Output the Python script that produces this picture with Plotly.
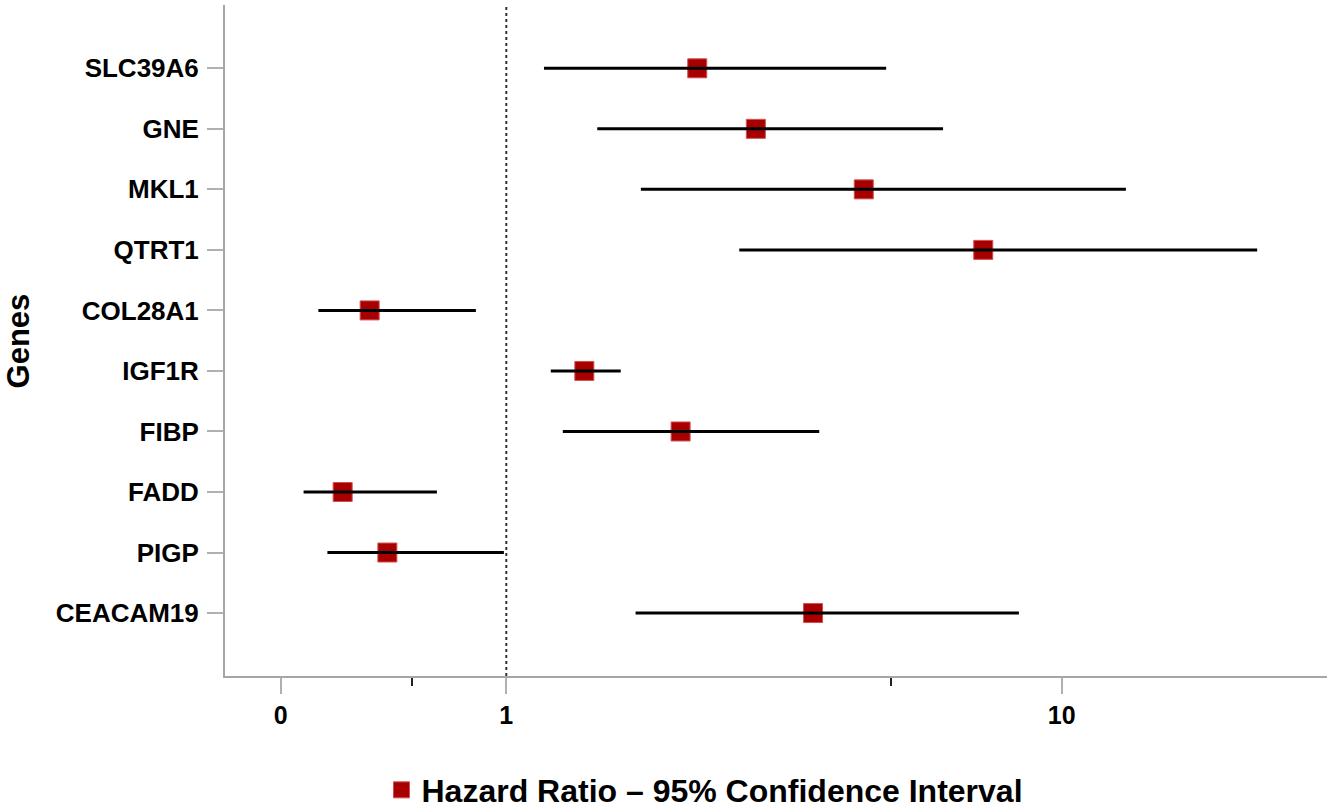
import plotly.graph_objects as go

genes = ["SLC39A6", "GNE", "MKL1", "QTRT1", "COL28A1", "IGF1R", "FIBP", "FADD", "PIGP", "CEACAM19"]
hazard_ratio = [2.207, 2.814, 4.402, 7.224, 0.5675, 1.382, 2.06, 0.5074, 0.6107, 3.567]
ci_low = [1.169, 1.458, 1.747, 2.627, 0.4588, 1.2025, 1.264, 0.4315, 0.4763, 1.709]
ci_high = [4.83, 6.115, 13.05, 22.49, 0.8815, 1.607, 3.66, 0.750, 0.990, 8.375]

x_tick_vals = [0.3925, 1, 10]
x_tick_text = ["0", "1", "10"]
x_minor_vals = [0.677, 4.918]
reference_value = 1
legend_label = "Hazard Ratio \u2013 95% Confidence Interval"
y_title = "Genes"

FONT = "Liberation Sans, Arial, sans-serif"

ci_x, ci_y = [], []
for g, lo, hi in zip(genes, ci_low, ci_high):
    ci_x += [lo, hi, None]
    ci_y += [g, g, None]

fig = go.Figure()
fig.add_trace(go.Scatter(
    x=hazard_ratio, y=genes, mode="markers", name=legend_label,
    marker=dict(symbol="square", size=19, color="#a80000",
                line=dict(width=1, color="#d05050")),
    showlegend=True,
))
fig.add_trace(go.Scatter(
    x=ci_x, y=ci_y, mode="lines", line=dict(color="black", width=3),
    showlegend=False, hoverinfo="skip",
))

fig.add_shape(type="line", xref="x", yref="paper", x0=reference_value, x1=reference_value,
              y0=0, y1=1, line=dict(color="#333333", width=2, dash="dot"))

fig.add_annotation(text=y_title, xref="paper", yref="paper", x=-0.187, y=0.5,
                   xanchor="center", yanchor="middle", textangle=-90, showarrow=False,
                   font=dict(family=FONT, size=31, color="black", weight="bold"))

fig.update_xaxes(
    type="log", range=[-0.5065, 1.4777],
    tickmode="array", tickvals=x_tick_vals, ticktext=x_tick_text,
    ticks="outside", ticklen=16, tickwidth=1.5, tickcolor="#b0b0b0",
    showline=True, linecolor="#a6a6a6", linewidth=2,
    showgrid=False, zeroline=False,
    tickfont=dict(family=FONT, size=25, color="black", weight="bold"),
    minor=dict(tickmode="array", tickvals=x_minor_vals, ticks="outside",
               ticklen=8, tickwidth=2, tickcolor="#222222", showgrid=False),
)
fig.update_yaxes(
    type="category", categoryorder="array", categoryarray=genes,
    range=[10.04, -1.046],
    ticks="outside", ticklen=16, tickwidth=1.5, tickcolor="#b0b0b0",
    ticklabelstandoff=3,
    showline=True, linecolor="#a6a6a6", linewidth=2,
    showgrid=False, zeroline=False,
    tickfont=dict(family=FONT, size=26, color="black", weight="bold"),
)

fig.update_layout(
    width=1329, height=811,
    margin=dict(l=224.5, r=2.3, t=5, b=135.3, autoexpand=False),
    plot_bgcolor="white", paper_bgcolor="white",
    showlegend=True,
    legend=dict(orientation="h", x=0.142, xanchor="left", y=-0.17, yanchor="middle",
                font=dict(family=FONT, size=32, color="black", weight="bold"),
                bgcolor="rgba(0,0,0,0)"),
)

fig.write_html("out.html", config={"displayModeBar": False},
               post_script="document.body.style.margin='0px';document.body.style.overflow='hidden';")
